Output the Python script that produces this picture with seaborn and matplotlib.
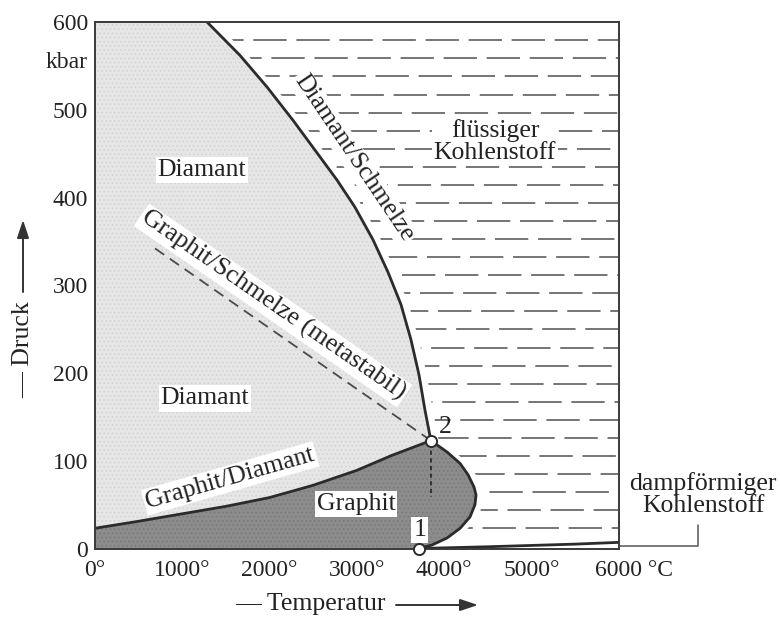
import numpy as np
import matplotlib
matplotlib.use("Agg")
import matplotlib.pyplot as plt
import seaborn as sns
import pandas as pd
from matplotlib.patches import Polygon

# ---- phase boundaries of carbon (temperature in °C, pressure in kbar) ----
graphite_diamond_T = [0, 500, 1000, 1500, 2000, 2500, 3000, 3400, 3850]
graphite_diamond_P = [23, 31, 39.5, 48, 58, 72, 89, 106, 123]

diamond_melt_T = [1288, 1665, 1974, 2272, 2546, 2775, 2981, 3187, 3359,
                  3508, 3622, 3714, 3782, 3850]
diamond_melt_P = [600, 562, 526, 488, 451, 420, 389, 352, 315,
                  278, 238, 198, 158, 123]

graphite_melt_T = [3850, 4035, 4184, 4276, 4344, 4367, 4355, 4298, 4184,
                   4035, 3863, 3710]
graphite_melt_P = [123, 110, 97, 84, 70, 61, 50, 36, 23, 12, 4, 0]

vapor_T = [3710, 4500, 5000, 5500, 6000]
vapor_P = [0, 2, 3.5, 5, 7]

metastable_T = [692, 3850]
metastable_P = [342, 123]

triple_T = [3710, 3850]
triple_P = [0, 123]
triple_names = ["1", "2"]

x_ticks = [0, 1000, 2000, 3000, 4000, 5000, 6000]
x_tick_labels = ["0°", "1000°", "2000°", "3000°", "4000°", "5000°", "6000 °C"]
y_ticks = [0, 100, 200, 300, 400, 500, 600]
y_tick_labels = ["0", "100", "200", "300", "400", "500", "600"]

# ---- styling ----
sns.set_theme(style="white")
plt.rcParams["font.family"] = ["Liberation Serif", "DejaVu Serif"]
plt.rcParams["lines.scale_dashes"] = False
plt.rcParams["hatch.linewidth"] = 0.6

INK = "#2b2b2b"
DIAMOND_GRAY = "#e6e6e6"
GRAPHITE_GRAY = "#8c8c8c"
TICK_FS = 17
LABEL_FS = 18.5

fig = plt.figure(figsize=(7.8, 6.17), dpi=100)
ax = fig.add_axes([0.1212, 0.1110, 0.6720, 0.8533])
ax.set_xlim(0, 6000)
ax.set_ylim(0, 600)
ax.set_facecolor("white")

# ---- filled regions ----
gd = list(zip(graphite_diamond_T, graphite_diamond_P))
dm = list(zip(diamond_melt_T, diamond_melt_P))
gm = list(zip(graphite_melt_T, graphite_melt_P))
vp = list(zip(vapor_T, vapor_P))

diamond_poly = [(0, 600)] + dm + gd[::-1]
ax.add_patch(Polygon(diamond_poly, closed=True, facecolor=DIAMOND_GRAY,
                     edgecolor="#d2d2d2", hatch="....", linewidth=0, zorder=1))

graphite_poly = [(0, 0)] + gm[::-1] + gd[::-1]
ax.add_patch(Polygon(graphite_poly, closed=True, facecolor=GRAPHITE_GRAY,
                     edgecolor="#787878", hatch="....", linewidth=0, zorder=1))

# liquid carbon: horizontal dashed hatching clipped to the melt region
liquid_poly = ([(t + 90, p) for t, p in dm] + [(t + 90, p) for t, p in gm[1:]]
               + [(vapor_T[0] + 150, 3)] + vp[1:] + [(6000, 600)])
liquid_clip = Polygon(liquid_poly, closed=True, facecolor="none",
                      edgecolor="none", transform=ax.transData)
ax.add_patch(liquid_clip)
hatch_rows = np.arange(23, 585, 20.6)
for i, p in enumerate(hatch_rows):
    off = (i * 13) % 31
    ln, = ax.plot([0, 6000], [p, p], color="#5e5e5e", lw=1.2,
                  linestyle=(off, (24, 7)), zorder=1.5)
    ln.set_clip_path(liquid_clip)

# ---- phase boundary curves ----
for T, P in [(graphite_diamond_T, graphite_diamond_P),
             (diamond_melt_T, diamond_melt_P),
             (graphite_melt_T, graphite_melt_P),
             (vapor_T, vapor_P)]:
    sns.lineplot(x=T, y=P, sort=False, estimator=None, ax=ax,
                 color=INK, lw=2.0, zorder=3)

sns.lineplot(x=metastable_T, y=metastable_P, sort=False, estimator=None, ax=ax,
             color="#4a4a4a", lw=1.3, linestyle=(0, (8, 5)), zorder=3)
ax.plot([triple_T[1], triple_T[1]], [triple_P[1] - 3, 59], color="#333333",
        lw=1.4, linestyle=(0, (3, 2.5)), zorder=3)

# triple points
ax.plot(triple_T, triple_P, linestyle="none", marker="o", markersize=8,
        markerfacecolor="white", markeredgecolor=INK, markeredgewidth=1.4,
        zorder=6, clip_on=False)

# ---- axes ----
for s in ax.spines.values():
    s.set_color("#3a3a3a")
    s.set_linewidth(1.4)
    s.set_zorder(4)
ax.set_axisbelow(False)
ax.set_xticks(x_ticks)
ax.set_xticklabels(x_tick_labels[:-1] + [""])
ax.set_yticks(y_ticks)
ax.set_yticklabels(y_tick_labels)
ax.tick_params(axis="both", direction="in", length=7, width=1.3,
               color="#333333", labelsize=TICK_FS, labelcolor="#222222")
ax.tick_params(axis="x", pad=8)
ax.tick_params(axis="y", pad=4.5)
ax.annotate(x_tick_labels[-1], xy=(6000, 0), xytext=(-17, -8),
            textcoords="offset points", ha="left", va="top",
            fontsize=TICK_FS, color="#222222", annotation_clip=False)
fig.text(88 / 780, 1 - 62 / 617, "kbar", ha="right", va="center",
         fontsize=TICK_FS, color="#222222")

# axis titles with arrows
fig.text(310 / 780, 1 - 604 / 617, "— Temperatur", ha="center", va="center",
         fontsize=LABEL_FS, color="#222222")
ax.annotate("", xy=(478, 617 - 605), xytext=(396, 617 - 605),
            xycoords="figure pixels", textcoords="figure pixels",
            arrowprops=dict(arrowstyle="-|>,head_length=0.6,head_width=0.2",
                            lw=1.4, color="#333333", mutation_scale=18,
                            shrinkA=0, shrinkB=0))
fig.text(23 / 780, 1 - 350 / 617, "— Druck", ha="center", va="center",
         rotation=90, fontsize=LABEL_FS, color="#222222")
ax.annotate("", xy=(23, 617 - 220), xytext=(23, 617 - 292),
            xycoords="figure pixels", textcoords="figure pixels",
            arrowprops=dict(arrowstyle="-|>,head_length=0.6,head_width=0.2",
                            lw=1.4, color="#333333", mutation_scale=18,
                            shrinkA=0, shrinkB=0))

# ---- region and boundary labels ----
box = dict(facecolor="white", edgecolor="none", pad=1.5)
def label(x, y, s, rot=0, bbox=True, **kw):
    ax.text(x, y, s, ha="center", va="center", rotation=rot,
            rotation_mode="anchor", fontsize=LABEL_FS, color="#222222",
            bbox=box if bbox else None, zorder=7, **kw)

label(1230, 431, "Diamant")
label(1265, 171, "Diamant")
label(2993, 51, "Graphit")
label(4583, 464, "flüssiger\nKohlenstoff", linespacing=1.0)
label(2965, 445, "Diamant/Schmelze", rot=-56,
      bbox=dict(facecolor="white", edgecolor="none", pad=0.5))
label(2043, 277, "Graphit/Schmelze (metastabil)", rot=-34.6)
label(1553, 80, "Graphit/Diamant", rot=16)
label(triple_T[0] + 15, 21, triple_names[0])
label(triple_T[1] + 160, 138, triple_names[1], bbox=False)

ax.text(6966, 61, "dampförmiger\nKohlenstoff", ha="center", va="center",
        fontsize=LABEL_FS, color="#222222", linespacing=1.0, clip_on=False)
ax.plot([6000, 6907, 6907], [2.8, 2.8, 26.8], color="#555555", lw=1.1,
        clip_on=False, zorder=3)

fig.savefig("out.png", dpi=100, facecolor="white")
